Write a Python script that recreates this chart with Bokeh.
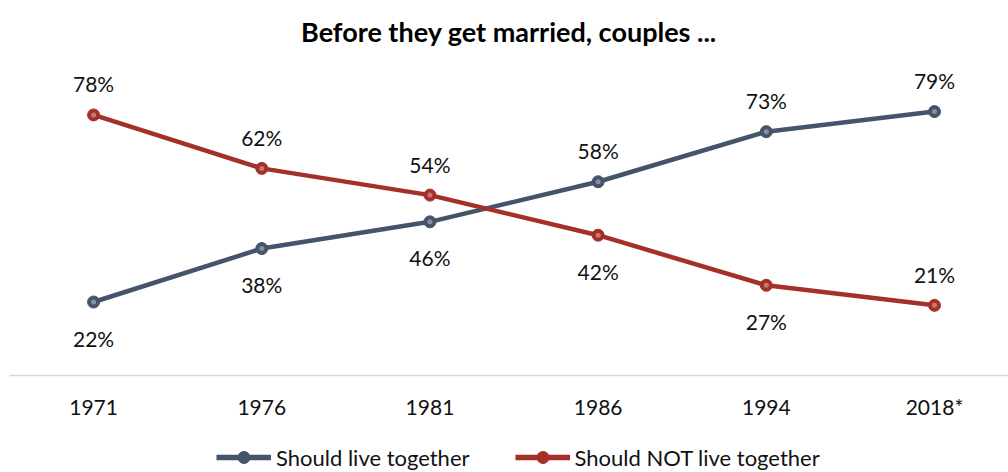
from bokeh.plotting import figure
from bokeh.models import Range1d, Legend, LegendItem, ColumnDataSource, FixedTicker, LabelSet
from bokeh.layouts import column
from bokeh.core.properties import value
from bokeh.embed import file_html
from bokeh.resources import INLINE

years = ["1971", "1976", "1981", "1986", "1994", "2018*"]
live_together = [22, 38, 46, 58, 73, 79]
not_live_together = [78, 62, 54, 42, 27, 21]
# label placement: 1 = above, -1 = below
live_pos = [-1, -1, -1, 1, 1, 1]
not_pos = [1, 1, 1, -1, -1, 1]
series_names = ["Should live together", "Should NOT live together"]

BLUE = "#44546A"
RED = "#A5302A"
FONT = "Lato"

p = figure(width=1008, height=432, output_backend="svg", toolbar_location=None,
           x_range=Range1d(-0.5, 5.44), y_range=Range1d(0, 94.3),
           y_axis_location=None, min_border_left=9, min_border_right=0,
           min_border_top=60, min_border_bottom=57,
           title="Before they get married, couples ...")
p.outline_line_color = None
p.grid.visible = False
p.title.align = "center"
p.title.text_font = FONT
p.title.text_font_size = "27px"
p.title.text_font_style = "bold"
p.title.text_color = "#000000"
p.title.standoff = 25

xs = list(range(len(years)))

def series(fig, vals, pos, color, with_labels=True):
    src = ColumnDataSource(dict(
        x=xs, y=vals, lab=[f"{v}%" for v in vals],
        off=[31 if s > 0 else -36 for s in pos]))
    ln = fig.line("x", "y", source=src, line_color=color, line_width=4.5)
    mk = fig.scatter("x", "y", source=src, size=12, fill_color=color,
                     line_color=color, line_width=1)
    if with_labels:
        fig.scatter("x", "y", source=src, size=5, fill_color="white", fill_alpha=0.35,
                    line_color=None)
        labels = LabelSet(x="x", y="y", text="lab", source=src, y_offset="off",
                          text_align="center", text_baseline="middle",
                          text_font=value(FONT), text_font_size="21px",
                          text_color="#111111")
        fig.add_layout(labels)
    return [ln, mk]

series(p, live_together, live_pos, BLUE)
series(p, not_live_together, not_pos, RED)

p.xaxis.ticker = FixedTicker(ticks=xs)
p.xaxis.major_label_overrides = {i: y for i, y in enumerate(years)}
p.xaxis.axis_line_color = "#D9D9D9"
p.xaxis.axis_line_width = 1.5
p.xaxis.major_tick_line_color = None
p.xaxis.minor_tick_line_color = None
p.xaxis.major_label_standoff = 12
p.xaxis.major_label_text_font = FONT
p.xaxis.major_label_text_font_size = "21px"
p.xaxis.major_label_text_color = "#111111"

# legend strip below the chart (series drawn out of view, only their legend glyphs show)
lp = figure(width=1008, height=40, output_backend="svg", toolbar_location=None,
            x_range=Range1d(-100, -99), y_range=Range1d(-100, -99),
            x_axis_location=None, y_axis_location=None,
            min_border_left=0, min_border_right=0, min_border_top=0, min_border_bottom=0)
lp.outline_line_color = None
lp.grid.visible = False
items = []
for name, vals, pos, color in zip(series_names, [live_together, not_live_together],
                                  [live_pos, not_pos], [BLUE, RED]):
    rs = series(lp, vals, pos, color, with_labels=False)
    rs[0].glyph.line_width = 5.5
    items.append(LegendItem(label=name, renderers=rs))

legend = Legend(items=items, orientation="horizontal", location=(207, 0),
                label_text_font=FONT, label_text_font_size="22px",
                label_text_color="#111111", glyph_width=55, glyph_height=30,
                spacing=45, label_standoff=5, border_line_color=None,
                background_fill_alpha=0, padding=0, margin=0)
lp.add_layout(legend, "center")

open("out.html", "w").write(file_html(column(p, lp, spacing=0), INLINE))
